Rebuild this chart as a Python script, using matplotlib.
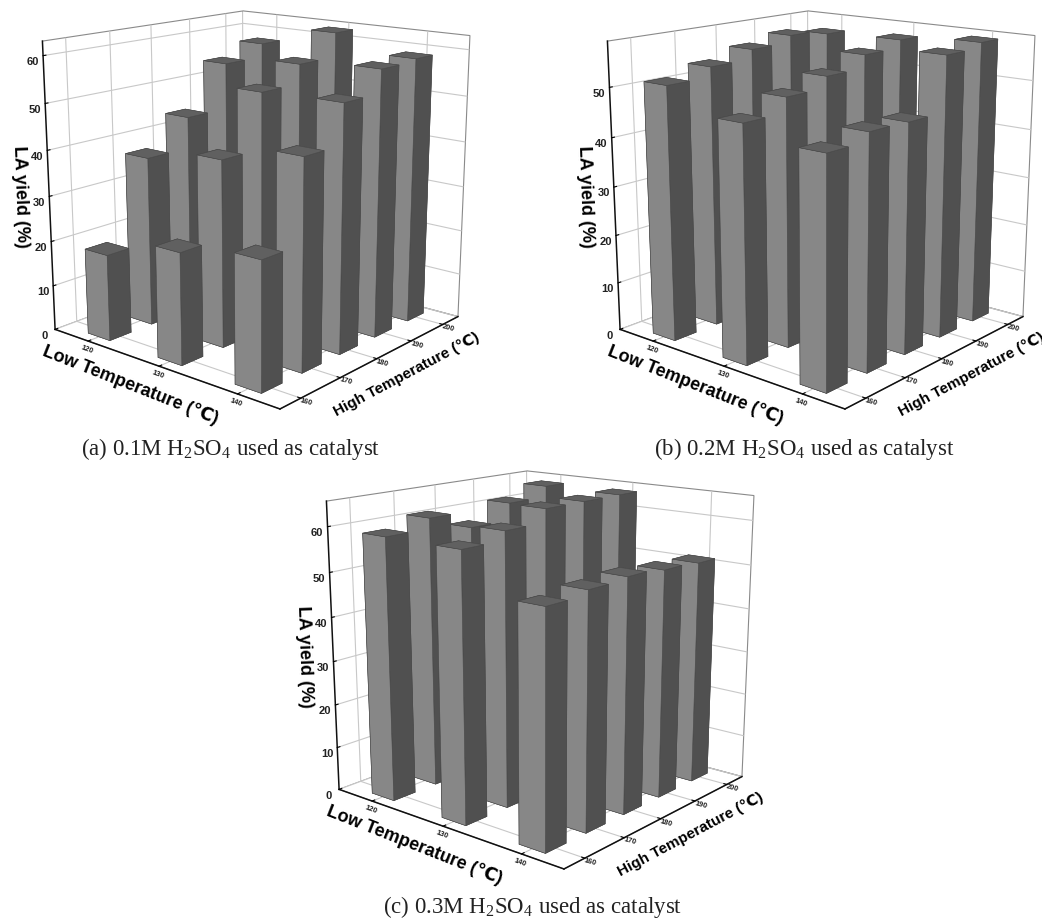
import numpy as np
import matplotlib
matplotlib.use('Agg')
import matplotlib.pyplot as plt

plt.rcParams['grid.color'] = '#c8c8c8'
plt.rcParams['grid.linewidth'] = 0.8
plt.rcParams['axes3d.automargin'] = False
plt.rcParams['mathtext.fontset'] = 'custom'
plt.rcParams['mathtext.rm'] = 'Liberation Serif'

low_temp = [120, 130, 140]
high_temp = [160, 170, 180, 190, 200]
yield_a = [[19, 37.5, 44.3, 54.5, 57.5], [24, 40.5, 52.5, 56.7, 62], [27, 44.5, 53, 58, 58.5]]
yield_b = [[51.5, 53.5, 55.5, 57, 56], [47, 50, 52.3, 55, 56.6], [44.5, 46.2, 46, 57, 58]]
yield_c = [[59, 61.3, 57.5, 61.5, 64], [59, 61, 64, 64, 64], [50.7, 51.7, 52.2, 51.5, 51]]
captions = ['(a) 0.1M H$_2$SO$_4$ used as catalyst',
            '(b) 0.2M H$_2$SO$_4$ used as catalyst',
            '(c) 0.3M H$_2$SO$_4$ used as catalyst']

W, H = 1042, 920
fig = plt.figure(figsize=(W / 100, H / 100), dpi=100, facecolor='white')
SANS = ['Liberation Sans', 'DejaVu Sans']


def panel(vals, zmax, zticks, off, cap_xy):
    ox, oy = off
    l, t, w, h = ox - 10, oy - 55, 525, 495
    ax = fig.add_axes([l / W, 1 - (t + h) / H, w / W, h / H], projection='3d')
    ax.patch.set_alpha(0)
    ax.computed_zorder = False
    ax.set_proj_type('persp', focal_length=0.48)
    ax.view_init(elev=15, azim=-50)
    ax.set_xlim(115, 145)
    ax.set_ylim(155, 205)
    ax.set_zlim(0, zmax)
    ax.set_box_aspect((1, 1, 1.0), zoom=1.0)
    order = 0
    for i, lo in enumerate(low_temp):
        for j in range(len(high_temp) - 1, -1, -1):
            order += 1
            ax.bar3d(lo - 1.6, high_temp[j] - 2.5, 0, 3.2, 5, vals[i][j],
                     color=['#666666', '#606060', '#878787', '#878787', '#505050', '#505050'],
                     edgecolor='#484848', linewidth=0.4, shade=False, zorder=order)
    ax.set_xticks(low_temp)
    ax.set_yticks(high_temp)
    ax.set_zticks(zticks)
    ax.set_xticklabels(low_temp, fontsize=5.5, fontweight='bold', family=SANS, rotation=-20, color='#222222')
    ax.set_yticklabels(high_temp, fontsize=5.5, fontweight='bold', family=SANS, rotation=-15, color='#222222', ha='left')
    ax.set_zticklabels(zticks, fontsize=8, fontweight='bold', family=SANS, color='#222222')
    ax.zaxis.set_ticks_position('lower')
    ax.tick_params(axis='x', pad=-7)
    ax.tick_params(axis='y', pad=-9)
    ax.tick_params(axis='z', pad=-3.5)
    for a in (ax.xaxis, ax.yaxis, ax.zaxis):
        a.set_pane_color((1, 1, 1, 1))
        a.pane.set_edgecolor('#8a8a8a')
        a.pane.set_linewidth(0.8)
        a.line.set_color('#111111')
        a.line.set_linewidth(1.1)
        a._axinfo['tick']['inward_factor'] = 0.0
        a._axinfo['tick']['outward_factor'] = 0.15
    ax.set_xlabel('')
    ax.set_ylabel('')
    ax.set_zlabel('')
    fig.text((ox + 20) / W, 1 - (oy + 197) / H, 'LA yield (%)', rotation=-88, ha='center', va='center',
             fontsize=13, fontweight='bold', family=SANS)
    fig.text((ox + 130) / W, 1 - (oy + 385) / H, 'Low Temperature (℃)', rotation=-21.5, ha='center', va='center',
             fontsize=13, fontweight='bold', family=SANS, rotation_mode='anchor')
    fig.text((ox + 407) / W, 1 - (oy + 375) / H, 'High Temperature (℃)', rotation=28, ha='center', va='center',
             fontsize=11, fontweight='bold', family=SANS, rotation_mode='anchor')
    fig.text(cap_xy[0] / W, 1 - cap_xy[1] / H, captions[panel.n], ha='center', va='center',
             fontsize=16.5, family='Liberation Serif', color='#222222')
    panel.n += 1


panel.n = 0
panel(yield_a, 63, [0, 10, 20, 30, 40, 50, 60], (0, 0), (231, 449))
panel(yield_b, 59, [0, 10, 20, 30, 40, 50], (565, 0), (804, 449))
panel(yield_c, 65.5, [0, 10, 20, 30, 40, 50, 60], (284, 460), (533, 907))

fig.savefig('out.png', dpi=100)
